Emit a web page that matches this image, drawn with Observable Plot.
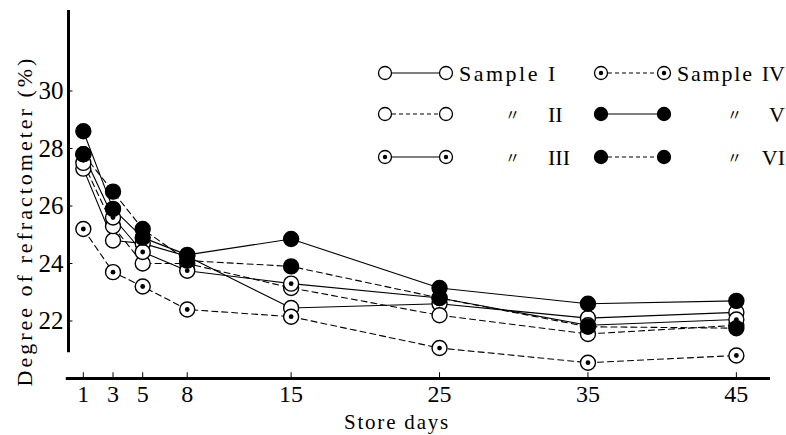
<!DOCTYPE html>
<html><head><meta charset="utf-8">
<script src="https://cdn.jsdelivr.net/npm/d3@7"></script>
<script src="https://cdn.jsdelivr.net/npm/@observablehq/plot@0.6"></script>
<style>
body{margin:0;background:#fff}
#chart{position:relative;width:786px;height:435px}
</style>
</head><body><div id="chart"></div>
<script>
// ---- data ----
const days = [1, 3, 5, 8, 15, 25, 35, 45];
const sampleNames = ["I", "II", "III", "IV", "V", "VI"];
const sampleI   = [27.3, 24.8, 24.7, 24.25, 22.45, 22.6, 22.1, 22.3];
const sampleII  = [27.5, 25.3, 24.0, 24.0, 23.15, 22.2, 21.55, 21.85];
const sampleIII = [27.8, 25.6, 24.4, 23.75, 23.3, 22.8, 21.85, 22.05];
const sampleIV  = [25.2, 23.7, 23.2, 22.4, 22.15, 21.06, 20.55, 20.8];
const sampleV   = [28.6, 25.9, 24.9, 24.3, 24.85, 23.15, 22.6, 22.7];
const sampleVI  = [27.8, 26.5, 25.2, 24.1, 23.9, 22.8, 21.8, 21.75];
const markerKind = ["open", "open", "dot", "dot", "filled", "filled"];
const lineKind = ["solid", "dashed", "solid", "dashed", "solid", "dashed"];
const yTicks = [22, 24, 26, 28, 30];
const xTicks = [1, 3, 5, 8, 15, 25, 35, 45];
const yTitle = "Degree of refractometer (%)";
const xTitle = "Store days";
const legendWord = "Sample";
const ditto = "〃";

const seriesValues = [sampleI, sampleII, sampleIII, sampleIV, sampleV, sampleVI];
const data = [];
seriesValues.forEach((vals, s) => vals.forEach((v, i) => data.push({
  series: sampleNames[s], day: days[i], value: v,
  marker: markerKind[s], line: lineKind[s]
})));

const serif = "'Liberation Serif', 'DejaVu Serif', serif";

const plot = Plot.plot({
  width: 786, height: 435,
  marginLeft: 68, marginRight: 16, marginTop: 10, marginBottom: 57,
  style: {fontFamily: serif, background: "white", color: "black"},
  x: {domain: [0, 47.3], axis: null},
  y: {domain: [20, 32.8], axis: null},
  marks: [
    // axis lines
    Plot.ruleX([0], {y1: 20.9, y2: 32.8, stroke: "black", strokeWidth: 3}),
    Plot.ruleY([20], {x1: -0.15, x2: 47.3, stroke: "black", strokeWidth: 3}),
    // y ticks (inside) and labels
    Plot.ruleY(yTicks, {x1: 0, x2: 0.3, stroke: "black", strokeWidth: 1}),
    Plot.text(yTicks, {x: 0, y: d => d, text: d => String(d), textAnchor: "end", dx: -5, fontSize: 25, fontFamily: serif, ariaLabel: "ytl"}),
    // x ticks (upwards) and labels
    Plot.ruleX(xTicks, {y1: 20, y2: 20.2, stroke: "black", strokeWidth: 1}),
    Plot.text(xTicks, {x: d => d, y: 20, text: d => String(d), dy: 16, fontSize: 24, fontFamily: serif, ariaLabel: "xtl"}),
    // lines
    Plot.line(data.filter(d => d.line === "solid"), {x: "day", y: "value", z: "series", stroke: "black", strokeWidth: 1.1}),
    Plot.line(data.filter(d => d.line === "dashed"), {x: "day", y: "value", z: "series", stroke: "black", strokeWidth: 1.1, strokeDasharray: "6,4"}),
    // markers
    Plot.dot(data, {x: "day", y: "value", r: 7.5, fill: d => d.marker === "filled" ? "black" : "white", stroke: "black", strokeWidth: 1.4}),
    Plot.dot(data.filter(d => d.marker === "dot"), {x: "day", y: "value", r: 2.4, fill: "black"})
  ]
});
document.getElementById("chart").appendChild(plot);

const svg = d3.select(plot);
// condense tick labels (tall narrow digits as in the original typesetting)
svg.selectAll('g[aria-label="ytl"] text, g[aria-label="xtl"] text').each(function() {
  const t = d3.select(this);
  let x = +t.attr("x") || 0, y = +t.attr("y") || 0;
  const tr = t.attr("transform");
  if (tr) {
    const m = /translate\(([-\d.e]+),\s*([-\d.e]+)\)/.exec(tr);
    if (m) { x += +m[1]; y += +m[2]; }
  }
  t.attr("transform", `translate(${x},${y}) scale(0.8,1) translate(${-x},${-y})${tr ? " " + tr : ""}`);
});

// ---- titles and legend ----
svg.append("text")
  .attr("transform", "translate(32,221) rotate(-90)")
  .attr("text-anchor", "middle")
  .attr("font-family", serif).attr("font-size", 22)
  .attr("letter-spacing", 3)
  .attr("fill", "black")
  .text(yTitle);
svg.append("text")
  .attr("x", 397).attr("y", 429)
  .attr("text-anchor", "middle")
  .attr("font-family", serif).attr("font-size", 21)
  .attr("letter-spacing", 1.8)
  .attr("fill", "black")
  .text(xTitle);

const lg = svg.append("g").attr("text-anchor", "start");
const colSym1 = [385, 601], colSym2 = [446, 664];
const colWord = [459, 677], colDitto = [505, 727];
const wordSpacing = [2.5, 1.8];
const rowY = [73, 114, 157];
sampleNames.forEach((name, s) => {
  const col = s < 3 ? 0 : 1, row = s % 3, y = rowY[row];
  lg.append("line").attr("x1", colSym1[col]).attr("x2", colSym2[col]).attr("y1", y).attr("y2", y)
    .attr("stroke", "black").attr("stroke-width", 1.1)
    .attr("stroke-dasharray", lineKind[s] === "dashed" ? "4,3" : null);
  [colSym1[col], colSym2[col]].forEach(cx => {
    lg.append("circle").attr("cx", cx).attr("cy", y).attr("r", 6.5)
      .attr("fill", markerKind[s] === "filled" ? "black" : "white")
      .attr("stroke", "black").attr("stroke-width", 1.3);
    if (markerKind[s] === "dot")
      lg.append("circle").attr("cx", cx).attr("cy", y).attr("r", 2.2).attr("fill", "black");
  });
  if (row === 0) {
    lg.append("text").attr("x", colWord[col]).attr("y", y + 8)
      .attr("text-anchor", "start")
      .attr("font-family", serif).attr("font-size", 22).attr("letter-spacing", wordSpacing[col])
      .attr("fill", "black").text(legendWord);
  } else {
    lg.append("text").attr("x", colDitto[col]).attr("y", y + 6)
      .attr("text-anchor", "start")
      .attr("font-family", "'Noto Sans CJK JP', serif").attr("font-size", 15)
      .attr("fill", "black").text(ditto);
  }
  lg.append("text").attr("x", col === 0 ? 548 : 785).attr("y", y + 8)
    .attr("text-anchor", col === 0 ? "start" : "end")
    .attr("font-family", serif).attr("font-size", 22)
    .attr("fill", "black").text(name);
});
</script>
</body></html>
